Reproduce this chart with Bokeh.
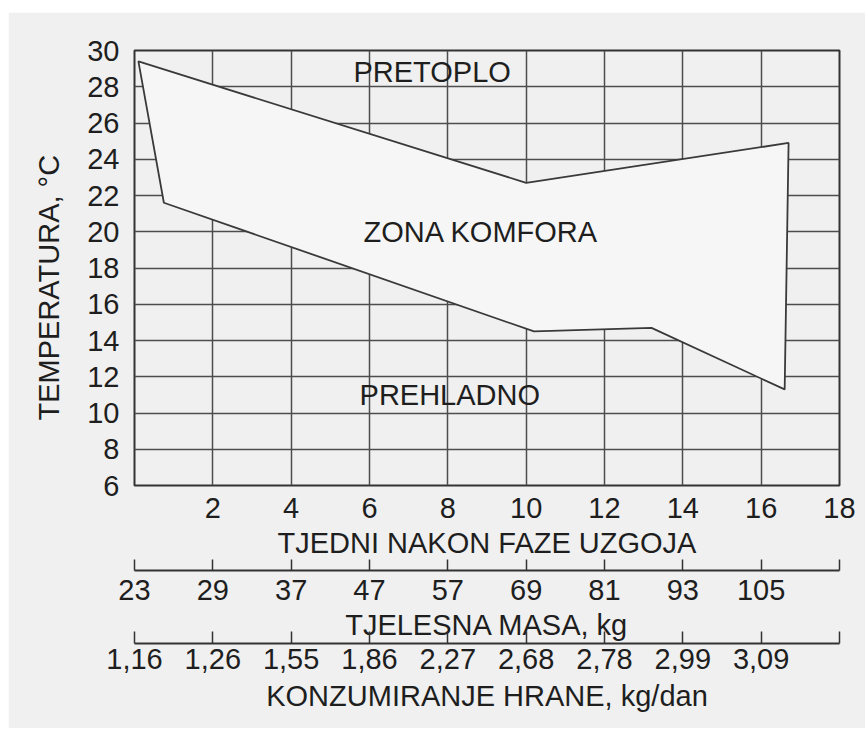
from bokeh.plotting import figure
from bokeh.models import LinearAxis, FixedTicker, Range1d, Title
from bokeh.core.properties import value
from bokeh.embed import file_html
from bokeh.resources import INLINE

# ---- data ----
week_ticks = [2, 4, 6, 8, 10, 12, 14, 16, 18]
temp_ticks = [6, 8, 10, 12, 14, 16, 18, 20, 22, 24, 26, 28, 30]
scale_ticks = [0, 2, 4, 6, 8, 10, 12, 14, 16, 18]
mass_labels = ["23", "29", "37", "47", "57", "69", "81", "93", "105", ""]
feed_labels = ["1,16", "1,26", "1,55", "1,86", "2,27", "2,68", "2,78", "2,99", "3,09", ""]

zone_x = [0.1, 10.0, 16.7, 16.6, 13.2, 10.2, 0.75]
zone_y = [29.4, 22.7, 24.9, 11.3, 14.7, 14.5, 21.6]

zone_names = ["PRETOPLO", "ZONA KOMFORA", "PREHLADNO"]
name_x = [7.6, 8.85, 8.05]
name_y = [28.8, 20.0, 11.0]

FONT = "Liberation Sans"
TXT = "#1e1e1e"
LINE = "#3a3a3a"
BG = "#f0f0f0"
TICK_FS = "29px"
TITLE_FS = "29px"

p = figure(width=857, height=716,
           x_range=Range1d(0, 18), y_range=Range1d(6, 30),
           output_backend="svg", toolbar_location=None,
           min_border_left=126, min_border_right=26,
           min_border_top=38, min_border_bottom=243)
p.margin = (12, 0, 0, 8)

p.background_fill_color = BG
p.border_fill_color = BG
p.outline_line_color = "#333333"
p.outline_line_width = 2

# grids
p.xgrid.ticker = FixedTicker(ticks=week_ticks)
p.ygrid.ticker = FixedTicker(ticks=temp_ticks)
for g in (p.xgrid, p.ygrid):
    g.grid_line_color = "#4d4d4d"
    g.grid_line_width = 1.5

# comfort zone polygon
p.patch(zone_x, zone_y, fill_color="#f6f6f6", fill_alpha=1.0,
        line_color=LINE, line_width=1.8)

p.text(x=name_x, y=name_y, text=zone_names,
       text_font=value(FONT), text_font_size=TITLE_FS,
       text_align="center", text_baseline="middle", text_color=TXT)


def style_axis(ax):
    ax.major_label_text_font = FONT
    ax.major_label_text_font_size = TICK_FS
    ax.major_label_text_color = TXT
    ax.axis_label_text_font = FONT
    ax.axis_label_text_font_size = TITLE_FS
    ax.axis_label_text_font_style = "normal"
    ax.axis_label_text_color = TXT
    ax.minor_tick_line_color = None


# y axis
ya = p.yaxis[0]
ya.ticker = FixedTicker(ticks=temp_ticks)
style_axis(ya)
ya.major_tick_out = 0
ya.major_tick_in = 0
ya.major_label_standoff = 15
ya.axis_line_color = None

ytitle = Title(text="TEMPERATURA, °C", align="left", offset=65, standoff=40,
               text_font=FONT, text_font_size=TITLE_FS,
               text_font_style="normal", text_color=TXT)
p.add_layout(ytitle, "left")

# weeks axis (primary)
xa = p.xaxis[0]
xa.ticker = FixedTicker(ticks=week_ticks)
style_axis(xa)
xa.major_tick_out = 0
xa.major_tick_in = 0
xa.axis_line_color = None
xa.major_label_standoff = 12
xa.axis_label = "TJEDNI NAKON FAZE UZGOJA"
xa.axis_label_standoff = 6

# spacer (invisible tick in background colour)
spacer = LinearAxis(ticker=FixedTicker(ticks=[9]), major_tick_out=9, major_tick_in=0,
                    axis_line_color=None, major_tick_line_color=BG,
                    major_tick_line_width=1,
                    major_label_overrides={9: ""},
                    major_label_text_font_size="1px",
                    minor_tick_line_color=None, major_label_standoff=0)
p.add_layout(spacer, "below")

# body mass axis
ma = LinearAxis(ticker=FixedTicker(ticks=scale_ticks),
                major_label_overrides=dict(zip(scale_ticks, mass_labels)))
style_axis(ma)
ma.major_tick_out = 0
ma.major_tick_in = 11
ma.axis_line_color = "#333333"
ma.axis_line_width = 2
ma.major_tick_line_color = "#333333"
ma.major_tick_line_width = 1.5
ma.major_label_standoff = 9
ma.axis_label = "TJELESNA MASA, kg"
ma.axis_label_standoff = 6
p.add_layout(ma, "below")

# feed consumption axis
fa = LinearAxis(ticker=FixedTicker(ticks=scale_ticks),
                major_label_overrides=dict(zip(scale_ticks, feed_labels)))
style_axis(fa)
fa.major_tick_out = 0
fa.major_tick_in = 12
fa.axis_line_color = "#333333"
fa.axis_line_width = 2
fa.major_tick_line_color = "#333333"
fa.major_tick_line_width = 1.5
fa.major_label_standoff = 5
fa.axis_label = "KONZUMIRANJE HRANE, kg/dan"
fa.axis_label_standoff = 8
p.add_layout(fa, "below")

open("out.html", "w").write(file_html(p, INLINE))
